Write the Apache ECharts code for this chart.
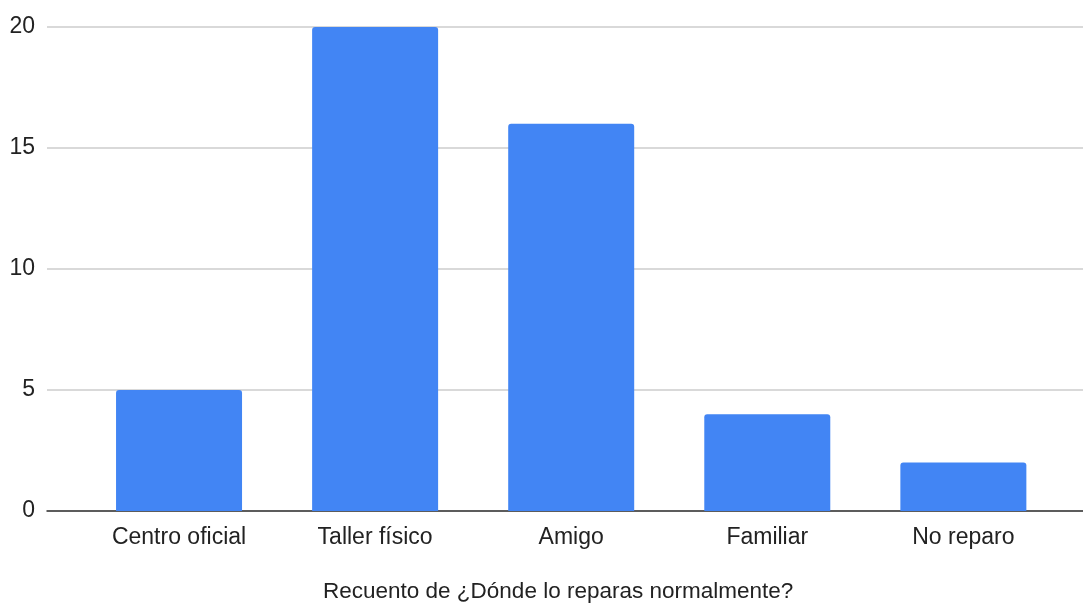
<!DOCTYPE html>
<html>
<head>
<meta charset="utf-8">
<script src="https://cdn.jsdelivr.net/npm/echarts@6/dist/echarts.min.js"></script>
<style>
  html, body { margin: 0; padding: 0; background: #fff; }
  #chart { width: 1083px; height: 603px; }
</style>
</head>
<body>
<div id="chart"></div>
<script>
// Survey answers: where people usually get things repaired
const categories = ['Centro oficial', 'Taller físico', 'Amigo', 'Familiar', 'No reparo'];
const counts = [5, 20, 16, 4, 2];
const yTicks = { min: 0, max: 20, interval: 5 };
const titleText = 'Recuento de ¿Dónde lo reparas normalmente?';

const FONT = 'Liberation Sans, Arial, sans-serif';
const chart = echarts.init(document.getElementById('chart'), null, { renderer: 'canvas' });

chart.setOption({
  backgroundColor: '#ffffff',
  animation: false,
  title: {
    text: titleText,
    left: 323,
    top: 580,
    padding: 0,
    textStyle: { fontFamily: FONT, fontSize: 22.5, fontWeight: 'normal', color: '#222222' }
  },
  grid: [
    // full-width frame: gridlines, value labels and baseline
    { left: 47, right: 0, top: 27, bottom: 92 },
    // inner band where the bars sit
    { left: 81, right: 21.6, top: 27, bottom: 92 }
  ],
  xAxis: [
    {
      gridIndex: 0, type: 'value', min: 0, max: 1,
      axisLine: { show: true, onZero: false, lineStyle: { color: '#333333', width: 1.5 } },
      axisTick: { show: false }, axisLabel: { show: false }, splitLine: { show: false }
    },
    {
      gridIndex: 1, type: 'category', data: categories,
      axisLine: { show: false }, axisTick: { show: false },
      axisLabel: { margin: 15, fontFamily: FONT, fontSize: 23, color: '#222222' }
    }
  ],
  yAxis: [
    {
      gridIndex: 0, type: 'value', min: yTicks.min, max: yTicks.max, interval: yTicks.interval,
      axisLine: { show: false }, axisTick: { show: false },
      axisLabel: { margin: 12, fontFamily: FONT, fontSize: 23, color: '#222222' },
      splitLine: { show: true, lineStyle: { color: '#cccccc', width: 1.5 } }
    },
    {
      gridIndex: 1, type: 'value', min: yTicks.min, max: yTicks.max, interval: yTicks.interval,
      show: false, splitLine: { show: false }
    }
  ],
  series: [{
    type: 'bar',
    xAxisIndex: 1,
    yAxisIndex: 1,
    data: counts,
    barWidth: 126,
    itemStyle: { color: '#4285f4', borderRadius: [3, 3, 0, 0] },
    z: 1
  }]
});
</script>
</body>
</html>
